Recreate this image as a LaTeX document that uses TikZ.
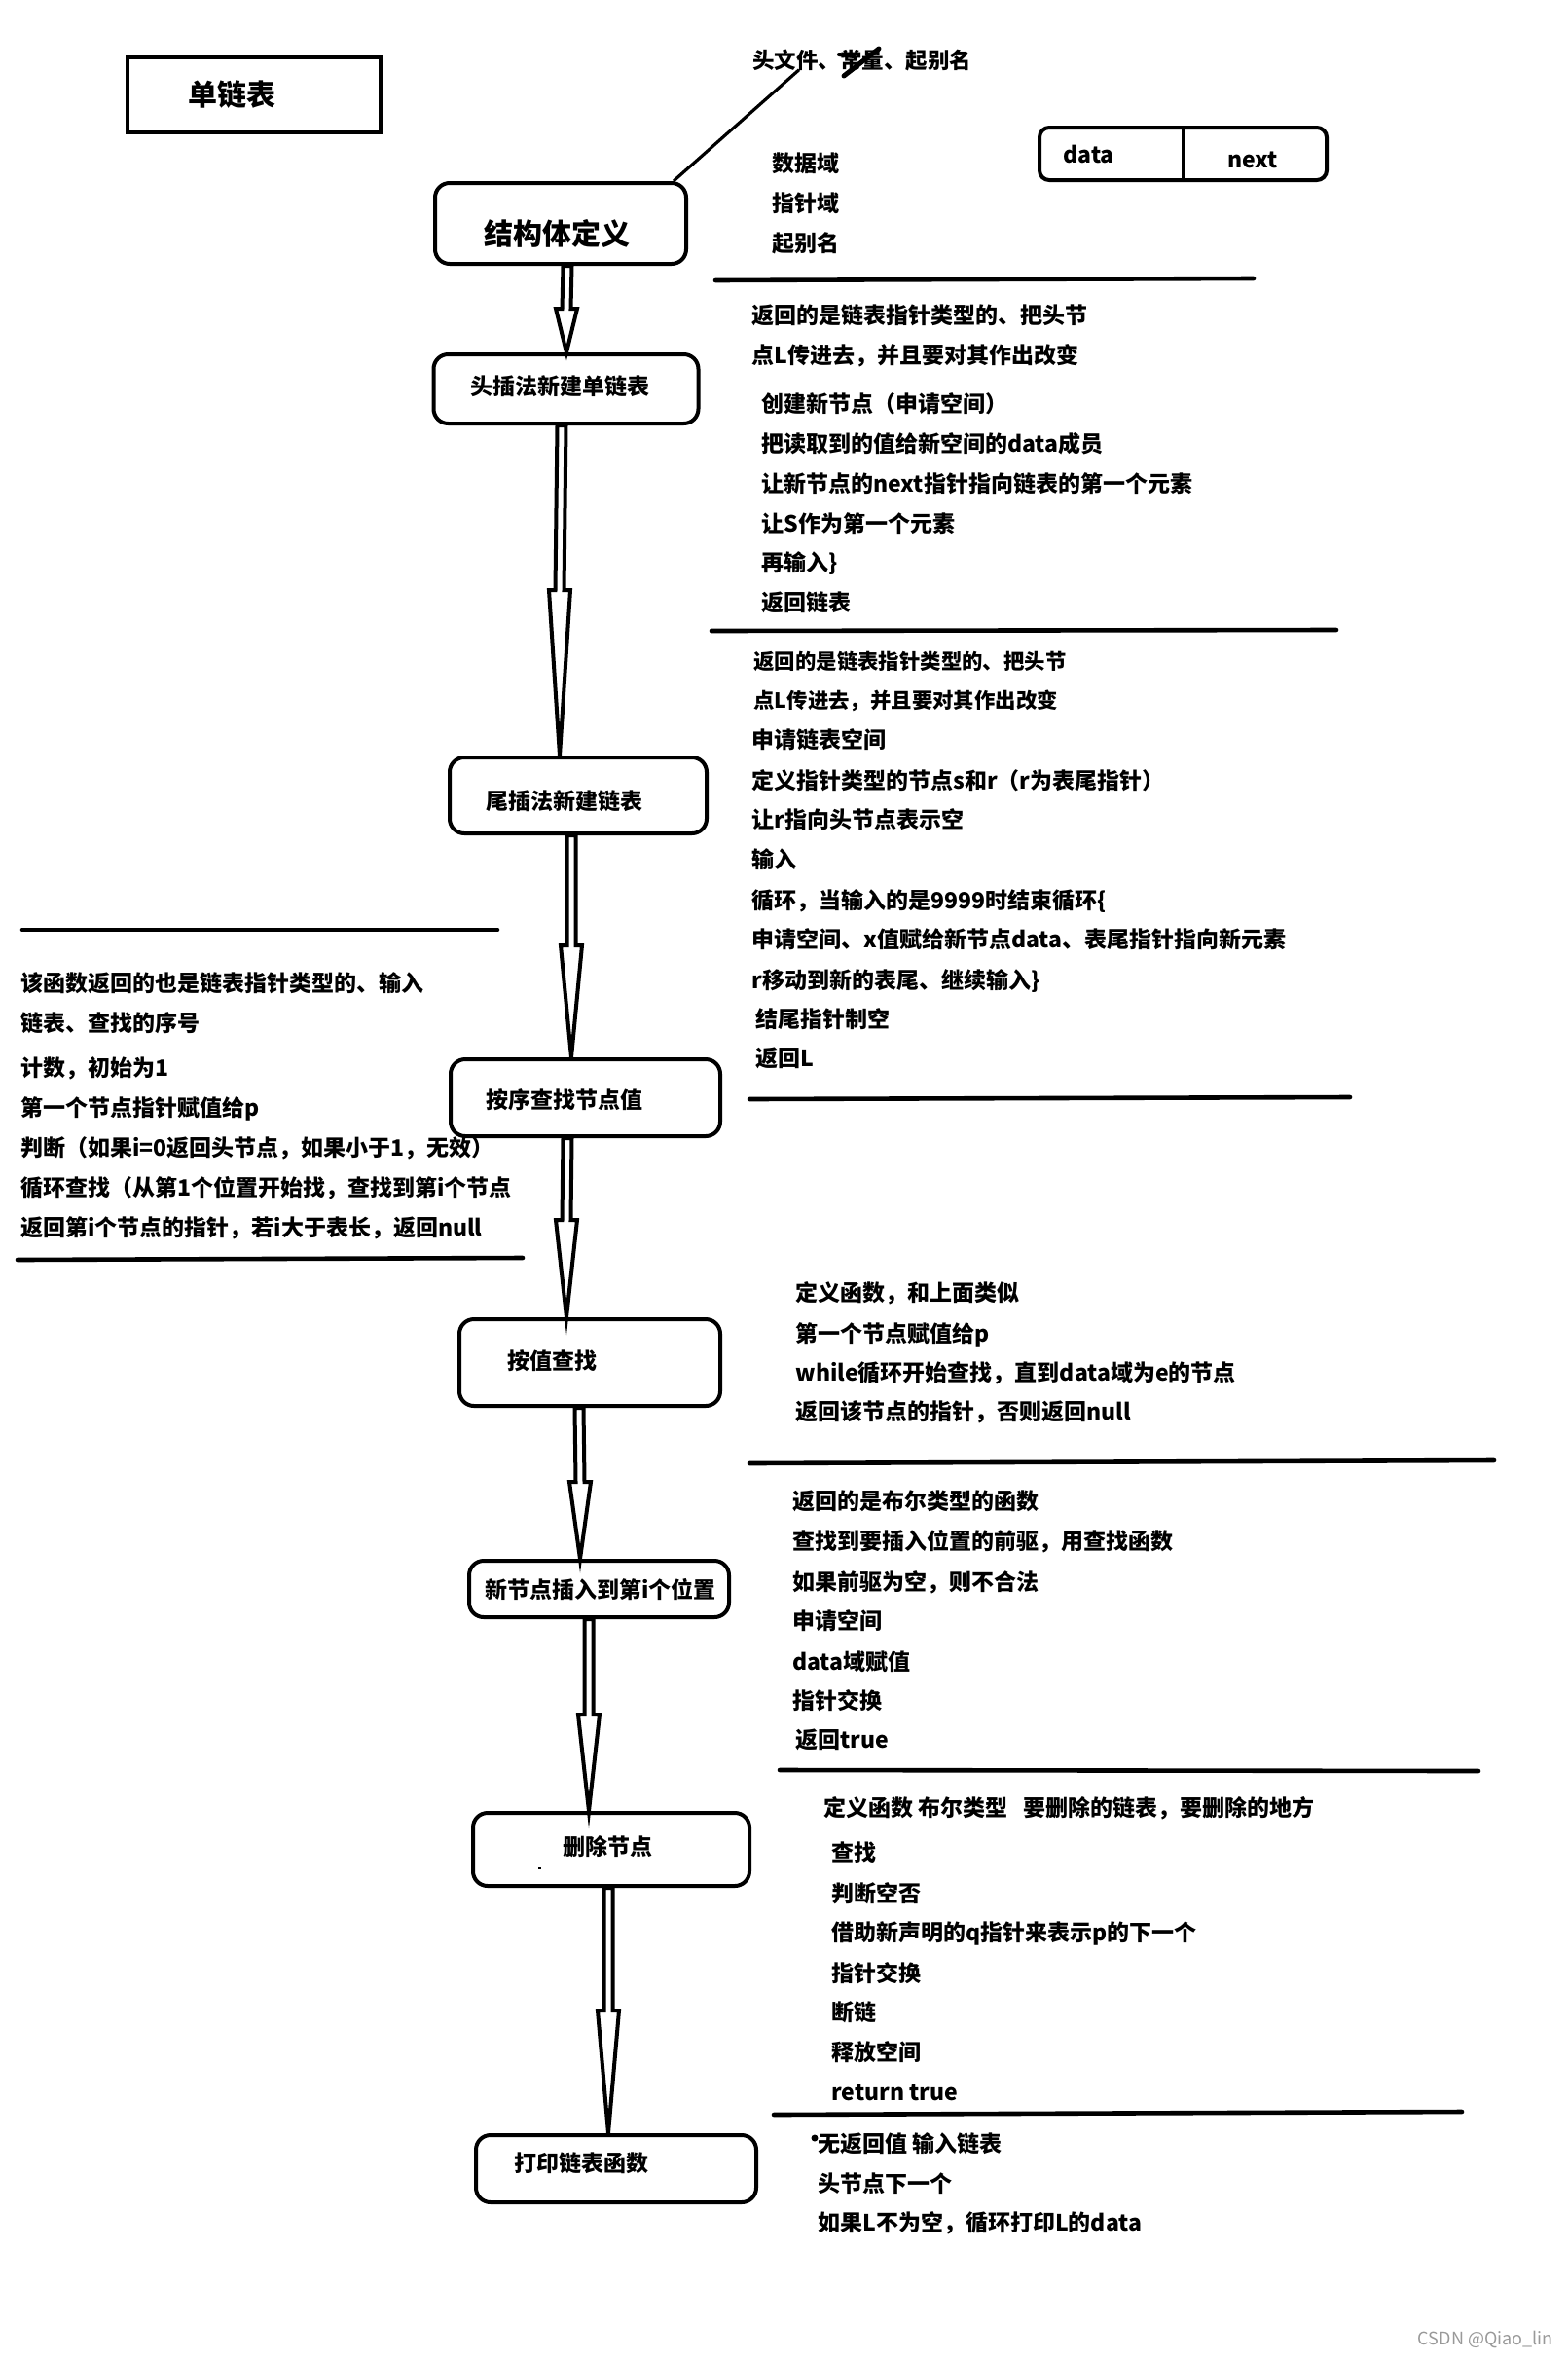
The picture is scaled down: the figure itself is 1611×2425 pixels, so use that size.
\documentclass[tikz,border=0pt]{standalone}
\usepackage{fontspec}
\setmainfont{Noto Sans CJK SC}
\usetikzlibrary{calc}
\tikzset{
  frame/.style={draw, line width=2pt, inner sep=0pt},
  rbox/.style={frame, rounded corners=7.5pt},
  ttl/.style={font=\bfseries\fontsize{11.5pt}{13pt}\selectfont, inner sep=0pt, anchor=base, yshift=-4.4pt},
  big/.style={font=\bfseries\fontsize{15pt}{17pt}\selectfont, inner sep=0pt, anchor=base, yshift=-5.7pt},
  txt/.style={font=\bfseries\fontsize{11.5pt}{13pt}\selectfont, inner sep=0pt, anchor=base west, yshift=-4.4pt},
  txts/.style={font=\bfseries\fontsize{10.7pt}{12pt}\selectfont, inner sep=0pt, anchor=base west, yshift=-4.1pt},
  sepline/.style={line width=2.3pt, line cap=round},
  harrow/.style={draw, line width=2pt, fill=white, line join=miter},
}
\newcommand\hollowarrow[3]{%
  \draw[harrow] let \p1=(#1), \p2=(#2) in
    (\x1-2.25pt,\y1) -- (\x2-2.25pt,\y2+#3) -- (\x2-5.5pt,\y2+#3) -- (\x2,\y2)
    -- (\x2+5.5pt,\y2+#3) -- (\x2+2.25pt,\y2+#3) -- (\x1+2.25pt,\y1) -- cycle;
}
\begin{document}
\begin{tikzpicture}[x=0.5pt,y=-0.5pt]
\useasboundingbox (0,0) rectangle (1611,2425);
\fill[white] (0,0) rectangle (1611,2425);

% title box
\node[frame, line width=2.2pt, minimum width=130pt, minimum height=38.5pt] (b1) at (261,97.5) {};
\node[big] (t1) at (238,97) {单链表};

% structure definition
\node[rbox, minimum width=129pt, minimum height=41.5pt] (b2) at (576,229.5) {};
\node[big] (t2) at (572,240) {结构体定义};
\node[txt, font=\bfseries\fontsize{11.25pt}{13pt}\selectfont] (hdr) at (773,62) {头文件、常量、起别名};
\draw[line width=1.6pt] ($(b2.north east)+(-15,0)$) -- ($(hdr.south west)+(48,-2)$);
\draw[line width=2.5pt, line cap=round] (867,78) -- (903,50);
\draw[line width=2pt, line cap=round] (862,56) -- (877,58);
\node[txt] (s1) at (793,168) {数据域};
\node[txt] (s2) at (793,209) {指针域};
\node[txt] (s3) at (793,250) {起别名};
\node[rbox, rounded corners=5pt, minimum width=147.5pt, minimum height=27pt] (dn) at (1215.5,158) {};
\draw[line width=1.2pt] (dn.north) -- (dn.south);
\node[txt] (dtx) at (1092,159) {data};
\node[txt] (ntx) at (1261,163.5) {next};
\draw[sepline] (735,288) -- (1288,286);

% head insert
\node[rbox, minimum width=136pt, minimum height=35.5pt] (b3) at (581.5,399.5) {};
\node[ttl] (t3) at (575,397) {头插法新建单链表};
\node[txt] (h1) at (772,324) {返回的是链表指针类型的、把头节};
\node[txt] (h2) at (772,365) {点L传进去，并且要对其作出改变};
\node[txt] (h3) at (782,415) {创建新节点（申请空间）};
\node[txt] (h4) at (782,456) {把读取到的值给新空间的data成员};
\node[txt] (h5) at (782,497) {让新节点的next指针指向链表的第一个元素};
\node[txt] (h6) at (782,538) {让S作为第一个元素};
\node[txt] (h7) at (782,578) {再输入\}};
\node[txt] (h8) at (782,619) {返回链表};
\draw[sepline] (731,648) -- (1373,647);

% tail insert
\node[rbox, minimum width=132pt, minimum height=39pt] (b4) at (594,817) {};
\node[ttl] (t4) at (580,823) {尾插法新建链表};
\node[txts] (w1) at (774,679) {返回的是链表指针类型的、把头节};
\node[txts] (w2) at (774,719) {点L传进去，并且要对其作出改变};
\node[txt] (w3) at (772,760) {申请链表空间};
\node[txt] (w4) at (772,802) {定义指针类型的节点s和r（r为表尾指针）};
\node[txt] (w5) at (772,842) {让r指向头节点表示空};
\node[txt] (w6) at (772,883) {输入};
\node[txt] (w7) at (772,925) {循环，当输入的是9999时结束循环\{};
\node[txt] (w8) at (772,965) {申请空间、x值赋给新节点data、表尾指针指向新元素};
\node[txt] (w9) at (772,1007) {r移动到新的表尾、继续输入\}};
\node[txt] (w10) at (776,1047) {结尾指针制空};
\node[txt] (w11) at (776,1087) {返回L};
\draw[sepline] (770,1129) -- (1387,1127);

% find by index
\node[rbox, minimum width=138.5pt, minimum height=39.5pt] (b5) at (601.5,1127.5) {};
\node[ttl] (t5) at (580,1130) {按序查找节点值};
\draw[sepline] (23,955) -- (511,955);
\node[txt] (l1) at (21,1010) {该函数返回的也是链表指针类型的、输入};
\node[txt] (l2) at (21,1051) {链表、查找的序号};
\node[txt] (l3) at (21,1097) {计数，初始为1};
\node[txt] (l4) at (21,1138) {第一个节点指针赋值给p};
\node[txt] (l5) at (21,1179) {判断（如果i=0返回头节点，如果小于1，无效）};
\node[txt] (l6) at (21,1220) {循环查找（从第1个位置开始找，查找到第i个节点};
\node[txt] (l7) at (21,1261) {返回第i个节点的指针，若i大于表长，返回null};
\draw[sepline] (18,1294) -- (537,1292);

% find by value
\node[rbox, minimum width=134pt, minimum height=44.5pt] (b6) at (606,1399.5) {};
\node[ttl] (t6) at (567,1398) {按值查找};
\node[txt] (v1) at (817,1328) {定义函数，和上面类似};
\node[txt] (v2) at (817,1370) {第一个节点赋值给p};
\node[txt] (v3) at (817,1410) {while循环开始查找，直到data域为e的节点};
\node[txt] (v4) at (817,1450) {返回该节点的指针，否则返回null};
\draw[sepline] (770,1503) -- (1535,1500);

% insert
\node[rbox, minimum width=133.5pt, minimum height=29pt] (b7) at (615.5,1632) {};
\node[ttl] (t7) at (617,1633) {新节点插入到第i个位置};
\node[txt] (n1) at (814,1542) {返回的是布尔类型的函数};
\node[txt] (n2) at (814,1583) {查找到要插入位置的前驱，用查找函数};
\node[txt] (n3) at (814,1625) {如果前驱为空，则不合法};
\node[txt] (n4) at (814,1665) {申请空间};
\node[txt] (n5) at (814,1707) {data域赋值};
\node[txt] (n6) at (814,1747) {指针交换};
\node[txt] (n7) at (817,1787) {返回true};
\draw[sepline] (801,1818) -- (1519,1819);

% delete
\node[rbox, minimum width=142pt, minimum height=37.5pt] (b8) at (628,1899.5) {};
\node[ttl] (t8) at (624,1897) {删除节点};
\fill (553,1918) rectangle (556,1920);
\node[txt] (d1) at (846,1857) {定义函数 布尔类型\hspace{8pt}要删除的链表，要删除的地方};
\node[txt] (d2) at (854,1903) {查找};
\node[txt] (d3) at (854,1945) {判断空否};
\node[txt] (d4) at (854,1985) {借助新声明的q指针来表示p的下一个};
\node[txt] (d5) at (854,2027) {指针交换};
\node[txt] (d6) at (854,2067) {断链};
\node[txt] (d7) at (854,2108) {释放空间};
\node[txt] (d8) at (854,2149) {return true};
\draw[sepline] (795,2172) -- (1502,2169);

% print
\node[rbox, minimum width=144pt, minimum height=34.5pt] (b9) at (633,2227.5) {};
\node[ttl] (t9) at (597,2222) {打印链表函数};
\fill (837,2196) circle (3.5);
\node[txt] (p1) at (840,2202) {无返回值 输入链表};
\node[txt] (p2) at (840,2243) {头节点下一个};
\node[txt] (p3) at (840,2283) {如果L不为空，循环打印L的data};

\node[font=\fontsize{9pt}{10pt}\selectfont, text=black!40, anchor=east, inner sep=0pt] (wm) at (1596,2403) {CSDN @Qiao\_lin};

% hollow arrows
\hollowarrow{$(b2.south)+(7,0)$}{$(b3.north)+(0.5,0)$}{22.5pt}
\hollowarrow{$(b3.south)+(-4.5,0)$}{$(b4.north)+(-19,0)$}{85pt}
\hollowarrow{$(b4.south)+(-7,0)$}{$(b5.north)+(-14.5,0)$}{57.5pt}
\hollowarrow{$(b5.south)+(-18.5,0)$}{$(b6.north)+(-24,0)$}{50pt}
\hollowarrow{$(b6.south)+(-11,0)$}{$(b7.north)+(-19.5,0)$}{39.5pt}
\hollowarrow{$(b7.south)+(-10.5,0)$}{$(b8.north)+(-23,0)$}{49.5pt}
\hollowarrow{$(b8.south)+(-3,0)$}{$(b9.north)+(-8,0)$}{63pt}
\end{tikzpicture}
\end{document}
